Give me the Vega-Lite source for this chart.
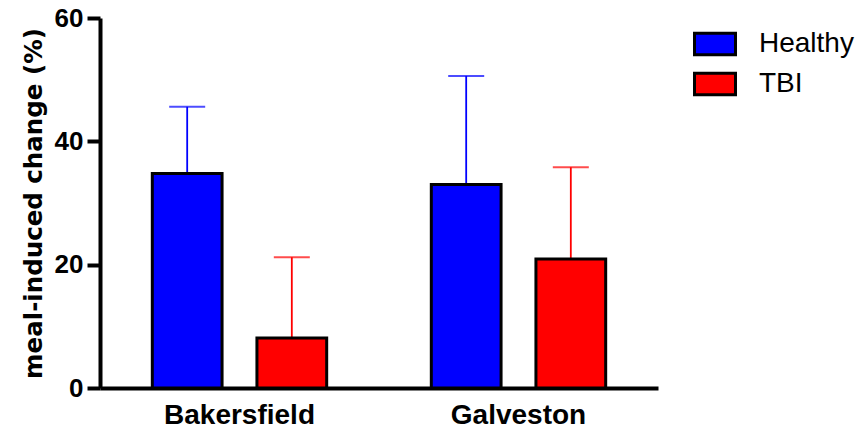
{
  "$schema": "https://vega.github.io/schema/vega-lite/v6.json",
  "autosize": "none",
  "width": 558,
  "height": 370,
  "padding": {"left": 100, "top": 18, "right": 199, "bottom": 45},
  "background": "white",
  "config": {
    "view": {"stroke": null},
    "font": "Liberation Sans"
  },
  "data": {
    "values": [
      {"site": "Bakersfield", "group": "Healthy", "value": 34.8, "upper": 45.6},
      {"site": "Bakersfield", "group": "TBI", "value": 8.1, "upper": 21.2},
      {"site": "Galveston", "group": "Healthy", "value": 33.0, "upper": 50.6},
      {"site": "Galveston", "group": "TBI", "value": 20.9, "upper": 35.8}
    ]
  },
  "encoding": {
    "x": {
      "field": "site",
      "type": "nominal",
      "scale": {"paddingInner": 0, "paddingOuter": 0},
      "axis": {
        "title": null,
        "labelAngle": 0,
        "labelFont": "Liberation Sans",
        "labelFontSize": 28,
        "labelFontWeight": "bold",
        "labelColor": "black",
        "labelPadding": 13,
        "ticks": false,
        "domainColor": "black",
        "domainWidth": 4,
        "grid": false
      }
    },
    "xOffset": {
      "field": "group",
      "type": "nominal",
      "scale": {"domain": ["Healthy", "TBI"], "paddingInner": 0.3333, "paddingOuter": 0.5}
    }
  },
  "layer": [
    {
      "transform": [{"filter": "datum.group === 'Healthy'"}],
      "mark": {"type": "rule", "strokeWidth": 1.8, "color": "#0000ff"},
      "encoding": {
        "y": {"field": "value", "type": "quantitative"},
        "y2": {"field": "upper"}
      }
    },
    {
      "transform": [{"filter": "datum.group === 'TBI'"}],
      "mark": {"type": "rule", "strokeWidth": 1.8, "color": "#ff0000"},
      "encoding": {
        "y": {"field": "value", "type": "quantitative"},
        "y2": {"field": "upper"}
      }
    },
    {
      "transform": [{"filter": "datum.group === 'Healthy'"}],
      "mark": {"type": "tick", "size": 36, "thickness": 2, "orient": "horizontal", "color": "#0000ff"},
      "encoding": {
        "y": {"field": "upper", "type": "quantitative"}
      }
    },
    {
      "transform": [{"filter": "datum.group === 'TBI'"}],
      "mark": {"type": "tick", "size": 36, "thickness": 2, "orient": "horizontal", "color": "#ff0000"},
      "encoding": {
        "y": {"field": "upper", "type": "quantitative"}
      }
    },
    {
      "mark": {"type": "bar", "stroke": "black", "strokeWidth": 3, "opacity": 1},
      "encoding": {
        "fill": {
          "field": "group",
          "type": "nominal",
          "scale": {"domain": ["Healthy", "TBI"], "range": ["#0000ff", "#ff0000"]},
          "legend": {
            "title": null,
            "orient": "none",
            "legendX": 593,
            "legendY": 4,
            "symbolType": "M-1,-0.52H1V0.52H-1Z",
            "symbolSize": 1681,
            "symbolStrokeColor": "black",
            "symbolStrokeWidth": 3,
            "symbolOpacity": 1,
            "labelFont": "Liberation Sans",
            "labelFontSize": 28,
            "labelColor": "black",
            "labelOffset": 22,
            "rowPadding": 1,
            "padding": 0,
            "encode": {
              "symbols": {
                "update": {
                  "stroke": {"value": "black"},
                  "strokeWidth": {"value": 3}
                }
              }
            }
          }
        },
        "y": {
          "field": "value",
          "type": "quantitative",
          "scale": {"domain": [0, 60], "nice": false, "zero": true},
          "axis": {
            "title": "meal-induced change (%)",
            "titleFont": "DejaVu Sans",
            "titleFontSize": 24.5,
            "titleFontWeight": "bold",
            "titleColor": "black",
            "titlePadding": 8,
            "values": [0, 20, 40, 60],
            "labelFont": "Liberation Sans",
            "labelFontSize": 26,
            "labelFontWeight": "bold",
            "labelColor": "black",
            "labelPadding": 4,
            "tickSize": 13,
            "tickWidth": 4,
            "tickColor": "black",
            "domainColor": "black",
            "domainWidth": 4,
            "grid": false
          }
        }
      }
    }
  ]
}
